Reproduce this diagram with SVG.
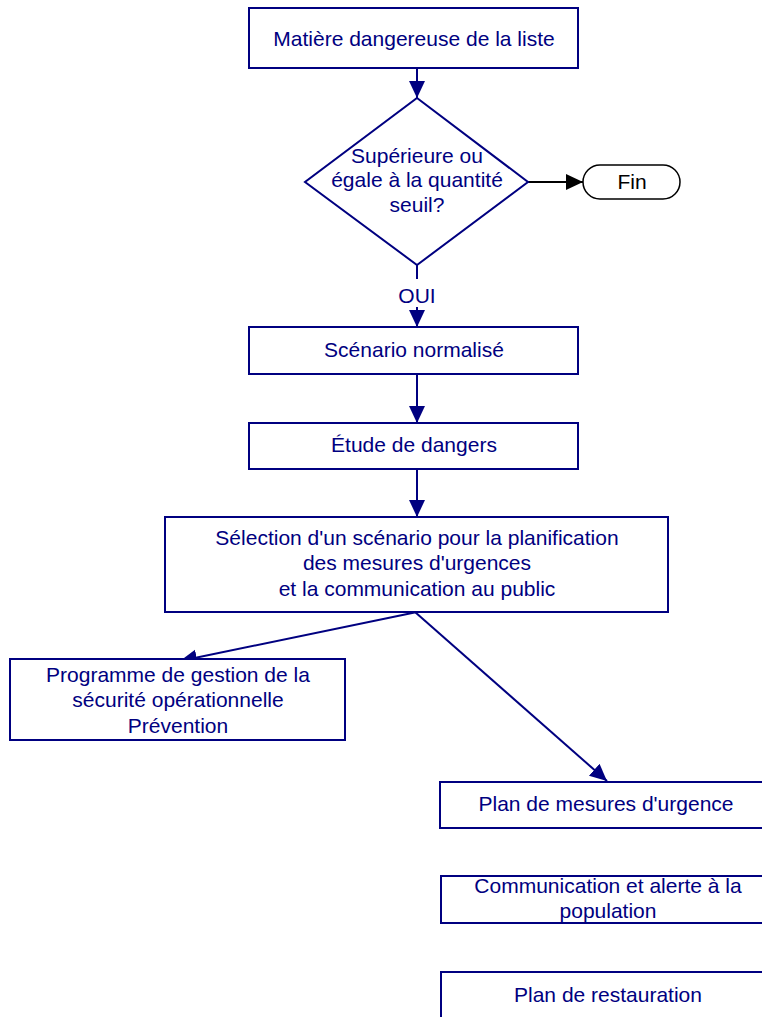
<svg xmlns="http://www.w3.org/2000/svg" width="762" height="1017" viewBox="0 0 762 1017">
<style>
.box{fill:#fff;stroke:#000080;stroke-width:2}
.t{font-family:"Liberation Sans",Arial,sans-serif;font-size:21px;fill:#000080;text-anchor:middle}
.tb{font-family:"Liberation Sans",Arial,sans-serif;font-size:21px;fill:#000;text-anchor:middle}
.c{stroke:#000080;stroke-width:2;fill:none}
</style>
<defs>
<marker id="ah" markerUnits="userSpaceOnUse" markerWidth="18" markerHeight="18" refX="17" refY="8" orient="auto"><path d="M0,0 L17,8 L0,16 z" fill="#000080"/></marker>
<marker id="ahk" markerUnits="userSpaceOnUse" markerWidth="18" markerHeight="18" refX="17" refY="8" orient="auto"><path d="M0,0 L17,8 L0,16 z" fill="#000"/></marker>
</defs>
<rect width="762" height="1017" fill="#fff"/>
<g id="connectors">
<line class="c" x1="417" y1="68" x2="417" y2="98" marker-end="url(#ah)"/>
<line x1="528" y1="182" x2="583" y2="182" stroke="#000" stroke-width="2" marker-end="url(#ahk)"/>
<line class="c" x1="417" y1="265" x2="417" y2="279"/>
<text class="t" x="417" y="303">OUI</text>
<line class="c" x1="417" y1="307" x2="417" y2="327" marker-end="url(#ah)"/>
<line class="c" x1="417" y1="374" x2="417" y2="423" marker-end="url(#ah)"/>
<line class="c" x1="417" y1="469" x2="417" y2="517" marker-end="url(#ah)"/>
<line class="c" x1="417" y1="612" x2="180" y2="661" marker-end="url(#ah)"/>
<line class="c" stroke-width="1.5" x1="415" y1="612" x2="607" y2="781" marker-end="url(#ah)"/>
</g>
<g id="n1"><rect class="box" x="249" y="8" width="329" height="60"/><text class="t" x="414" y="46">Matière dangereuse de la liste</text></g>
<g id="n2"><polygon class="box" points="417,98 528,182 417,265 305,182"/><text class="t" x="417" y="163">Supérieure ou</text><text class="t" x="417" y="187">égale à la quantité</text><text class="t" x="417" y="212">seuil?</text></g>
<g id="fin"><rect x="583" y="165" width="97" height="34" rx="17" fill="#fff" stroke="#000" stroke-width="1.5"/><text class="tb" x="632" y="189">Fin</text></g>
<g id="n3"><rect class="box" x="249" y="327" width="329" height="47"/><text class="t" x="414" y="357">Scénario normalisé</text></g>
<g id="n4"><rect class="box" x="249" y="423" width="329" height="46"/><text class="t" x="414" y="452">Étude de dangers</text></g>
<g id="n5"><rect class="box" x="165" y="517" width="503" height="95"/><text class="t" x="417" y="545">Sélection d'un scénario pour la planification</text><text class="t" x="417" y="570">des mesures d'urgences</text><text class="t" x="417" y="596">et la communication au public</text></g>
<g id="n6"><rect class="box" x="10" y="659" width="335" height="81"/><text class="t" x="178" y="682">Programme de gestion de la</text><text class="t" x="178" y="707">sécurité opérationnelle</text><text class="t" x="178" y="733">Prévention</text></g>
<g id="n7"><rect class="box" x="440" y="782" width="330" height="46"/><text class="t" x="606" y="811">Plan de mesures d'urgence</text></g>
<g id="n8"><rect class="box" x="441" y="876" width="330" height="47"/><text class="t" x="608" y="893">Communication et alerte à la</text><text class="t" x="608" y="918">population</text></g>
<g id="n9"><rect class="box" x="441" y="972" width="330" height="60"/><text class="t" x="608" y="1002">Plan de restauration</text></g>
</svg>
